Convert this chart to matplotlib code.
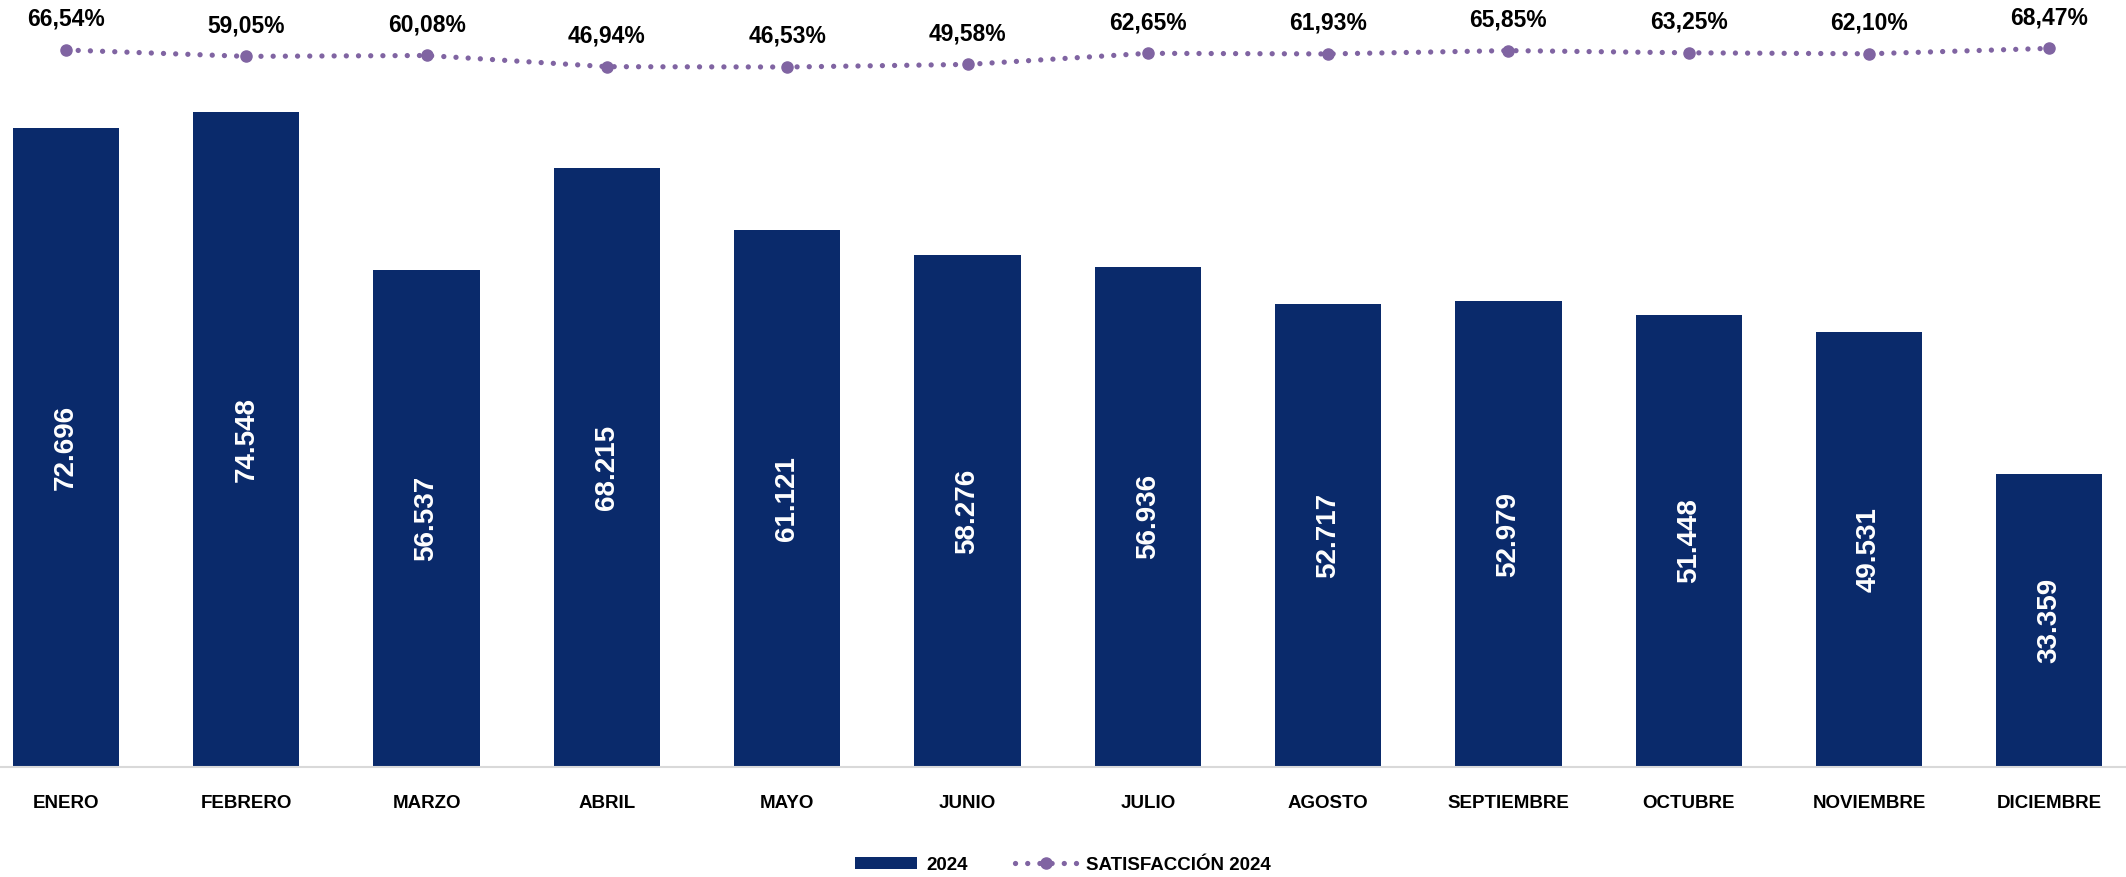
import matplotlib.pyplot as plt

meses = ['ENERO', 'FEBRERO', 'MARZO', 'ABRIL', 'MAYO', 'JUNIO', 'JULIO',
         'AGOSTO', 'SEPTIEMBRE', 'OCTUBRE', 'NOVIEMBRE', 'DICIEMBRE']
valores_2024 = [72696, 74548, 56537, 68215, 61121, 58276, 56936,
                52717, 52979, 51448, 49531, 33359]
satisfaccion_2024 = [66.54, 59.05, 60.08, 46.94, 46.53, 49.58, 62.65,
                     61.93, 65.85, 63.25, 62.10, 68.47]

AZUL = '#0A2A6B'
MORADO = '#8064A2'


def fmt_miles(v):
    return f'{v:,}'.replace(',', '.')


def fmt_pct(v):
    return f'{v:.2f}%'.replace('.', ',')


def main():
    plt.rcParams['font.family'] = ['Liberation Sans', 'DejaVu Sans']

    fig = plt.figure(figsize=(21.26, 8.77), dpi=100)
    W, H = 2126, 877
    base = 767
    ax = fig.add_axes([0, (H - base) / H, 1, base / H])

    x = list(range(len(meses)))
    barras = ax.bar(x, valores_2024, width=0.59, color=AZUL, zorder=2)
    ax.set_xlim(-66 / 180.3, (W - 66) / 180.3)
    ax.set_ylim(0, 87290)

    for b, v in zip(barras, valores_2024):
        ax.text(b.get_x() + b.get_width() / 2, v / 2, fmt_miles(v),
                rotation=90, ha='center', va='center', color='white',
                fontsize=20, fontweight='bold')

    for s in ['top', 'right', 'left']:
        ax.spines[s].set_visible(False)
    ax.spines['bottom'].set_color('#D9D9D9')
    ax.spines['bottom'].set_linewidth(1.5)
    ax.set_yticks([])
    ax.set_xticks(x)
    ax.set_xticklabels(meses, fontsize=13.5, fontweight='bold')
    ax.tick_params(axis='x', length=0, pad=20)

    # eje secundario para la satisfaccion
    ax2 = ax.twinx()
    px_pct = 0.85
    tope = 66.54 + 50 / px_pct
    ax2.set_ylim(tope - base / px_pct, tope)
    ax2.axis('off')
    ax2.plot(x, satisfaccion_2024, color=MORADO, linewidth=3.8,
             dashes=(0.01, 2.3), dash_capstyle='round',
             marker='o', markersize=8, label='SATISFACCIÓN 2024')
    for xi, s in zip(x, satisfaccion_2024):
        ax2.annotate(fmt_pct(s), (xi, s), xytext=(0, 22),
                     textcoords='offset points', ha='center', va='center',
                     fontsize=16.5, fontweight='bold', color='black',
                     annotation_clip=False)

    fig.legend(handles=[barras, ax2.lines[0]], labels=['2024', 'SATISFACCIÓN 2024'],
               loc='center', bbox_to_anchor=(1063 / W, 12 / H), ncol=2,
               frameon=False, prop={'size': 13.5, 'weight': 'bold'},
               handlelength=3.3, handleheight=0.6, columnspacing=2.5,
               handletextpad=0.5)

    fig.savefig('out.png', dpi=100)


if __name__ == '__main__':
    main()
